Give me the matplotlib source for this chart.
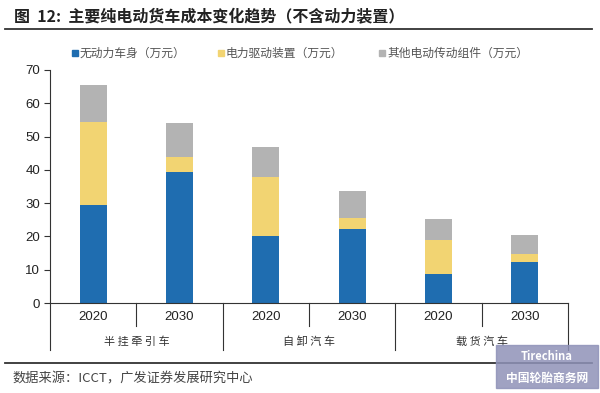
import matplotlib
matplotlib.use("Agg")
import matplotlib.pyplot as plt
from matplotlib.patches import Rectangle
from matplotlib.transforms import blended_transform_factory

plt.rcParams['font.family'] = ['Noto Sans CJK SC', 'DejaVu Sans']

years = ["2020", "2030", "2020", "2030", "2020", "2030"]
groups = ["半挂牵引车", "自卸汽车", "载货汽车"]
series_names = ["无动力车身（万元）", "电力驱动装置（万元）", "其他电动传动组件（万元）"]
body = [29.4, 39.3, 20.0, 22.1, 8.6, 12.4]
drive = [24.9, 4.6, 17.8, 3.3, 10.4, 2.3]
other = [11.1, 10.3, 9.1, 8.1, 6.3, 5.6]
yticks = [0, 10, 20, 30, 40, 50, 60, 70]

colors = ["#1f6db0", "#f2d472", "#b3b3b3"]

W, H = 600, 393
fig = plt.figure(figsize=(W / 100, H / 100), dpi=100)

def fx(px):
    return px / W

def fy(py):
    return 1 - py / H

ax = fig.add_axes([fx(50), fy(303), fx(568) - fx(50), fy(70) - fy(303)])
x = list(range(len(years)))
bw = 0.31
ax.bar(x, body, width=bw, color=colors[0], zorder=2)
ax.bar(x, drive, width=bw, bottom=body, color=colors[1], zorder=2)
bot2 = [a + b for a, b in zip(body, drive)]
ax.bar(x, other, width=bw, bottom=bot2, color=colors[2], zorder=2)

ax.set_xlim(-0.5, len(years) - 0.5)
ax.set_ylim(0, 70)
ax.set_yticks(yticks)
ax.set_yticklabels([str(v) for v in yticks], family=['Liberation Sans'], fontsize=9.5, color="#222222")
ax.tick_params(axis='y', length=4, width=0.8, color="#333333", pad=3)
ax.set_xticks([])
for s in ["top", "right"]:
    ax.spines[s].set_visible(False)
ax.spines["left"].set_color("#333333")
ax.spines["bottom"].set_color("#333333")
ax.spines["left"].set_linewidth(0.8)
ax.spines["bottom"].set_linewidth(0.8)

tr = blended_transform_factory(ax.transData, fig.transFigure)
# category separators
for b in [0.5, 2.5, 4.5]:
    ax.plot([b, b], [fy(303), fy(326)], transform=tr, color="#333333", lw=0.8, clip_on=False)
for b in [-0.5, 1.5, 3.5, 5.5]:
    ax.plot([b, b], [fy(303), fy(350)], transform=tr, color="#333333", lw=0.8, clip_on=False)
for i, yr in enumerate(years):
    ax.text(i, fy(317), yr, transform=tr, ha="center", va="center",
            family=['Liberation Sans'], fontsize=9.5, color="#222222")
for g, name in enumerate(groups):
    ax.text(2 * g + 0.5, fy(342), " ".join(name), transform=tr, ha="center", va="center",
            fontsize=8, color="#333333")

# title
fig.text(fx(14), fy(17), "图  12:  主要纯电动货车成本变化趋势（不含动力装置）",
         ha="left", va="center", fontsize=11.5, fontweight="bold", color="#222222")
fig.add_artist(plt.Line2D([fx(5), fx(592)], [fy(29), fy(29)], color="#333333", lw=1.3))

# legend
leg_x = [72, 218, 379]
for lx, name, c in zip(leg_x, series_names, colors):
    fig.add_artist(Rectangle((fx(lx), fy(56)), fx(6), 6 / H, color=c, transform=fig.transFigure))
    fig.text(fx(lx + 8), fy(53), name, ha="left", va="center", fontsize=8.5, color="#555555")

# bottom separator & source
fig.add_artist(plt.Line2D([fx(5), fx(592)], [fy(363), fy(363)], color="#333333", lw=1.3))
fig.text(fx(12), fy(379), "数据来源：ICCT，广发证券发展研究中心", ha="left", va="center",
         fontsize=9.5, color="#444444")

# watermark
fig.add_artist(Rectangle((fx(496), fy(388)), fx(102), 43 / H, color="#8f92b8", alpha=0.85,
                         transform=fig.transFigure, zorder=5))
fig.text(fx(547), fy(356), "Tirechina", ha="center", va="center", fontsize=8,
         fontstyle="italic", fontweight="bold", color="white", zorder=6)
fig.text(fx(547), fy(378), "中国轮胎商务网", ha="center", va="center", fontsize=8.5,
         fontweight="bold", color="white", zorder=6)

fig.savefig("out.png", dpi=100)
